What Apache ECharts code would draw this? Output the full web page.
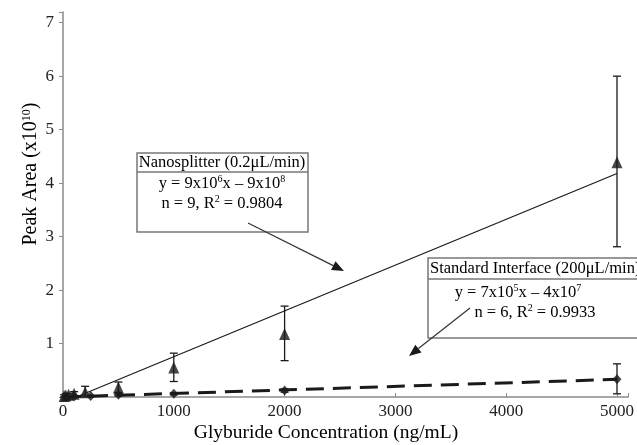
<!DOCTYPE html>
<html>
<head>
<meta charset="utf-8">
<script src="https://cdn.jsdelivr.net/npm/echarts@6/dist/echarts.min.js"></script>
<style>
  html, body { margin: 0; padding: 0; background: #fff; }
  #chart { width: 637px; height: 445px; }
</style>
</head>
<body>
<div id="chart"></div>
<script>
// Nanosplitter (0.2 uL/min) - triangles, peak area in x10^10
const nanoConc = [10, 25, 50, 100, 200, 500, 1000, 2000, 5000]
const nanoArea = [0.02, 0.03, 0.04, 0.06, 0.09, 0.18, 0.55, 1.18, 4.39]
const nanoLow = [0.0, 0.01, 0.02, 0.03, 0.02, 0.08, 0.29, 0.68, 2.81]
const nanoHigh = [0.04, 0.06, 0.07, 0.10, 0.20, 0.28, 0.82, 1.70, 6.00]

// Standard interface (200 uL/min) - diamonds
const stdConc = [100, 250, 500, 1000, 2000, 5000]
const stdArea = [0.01, 0.02, 0.04, 0.06, 0.12, 0.33]
const stdLow = [0.0, 0.01, 0.02, 0.04, 0.09, 0.06]
const stdHigh = [0.02, 0.03, 0.06, 0.08, 0.15, 0.62]

// fitted lines
const nanoFitX = [120, 5000]
const nanoFitY = [0, 4.18]
const stdFitX = [0, 5000]
const stdFitY = [0, 0.33]

const xTicks = [0, 1000, 2000, 3000, 4000, 5000]
const yTicks = [1, 2, 3, 4, 5, 6, 7]

const FONT = 'Liberation Serif'
const INK = '#1a1a1a'

const zip = (a, b) => a.map((v, i) => [v, b[i]])
const errData = (x, lo, hi) => x.map((v, i) => [v, lo[i], hi[i]])

function errorBars(params, api) {
  const x = api.value(0)
  const lo = api.coord([x, api.value(1)])
  const hi = api.coord([x, api.value(2)])
  const w = 4
  const style = {stroke: INK, lineWidth: 1.3}
  return {
    type: 'group',
    children: [
      {type: 'line', shape: {x1: lo[0], y1: lo[1], x2: hi[0], y2: hi[1]}, style},
      {type: 'line', shape: {x1: lo[0] - w, y1: lo[1], x2: lo[0] + w, y2: lo[1]}, style},
      {type: 'line', shape: {x1: hi[0] - w, y1: hi[1], x2: hi[0] + w, y2: hi[1]}, style}
    ]
  }
}

function txt(x, y, text, align, size, drop) {
  size = size || 16.5
  const sup = Math.round(size * 0.62)
  return {
    type: 'text', x, y, z: 10,
    style: {
      text,
      rich: {
        b: {fontFamily: FONT, fontSize: size, color: INK, lineHeight: size + 4},
        s: {fontFamily: FONT, fontSize: sup, color: INK, lineHeight: sup + 2, verticalAlign: 'top', padding: [drop || 1, 0, 0, 0]}
      },
      align: align || 'center', verticalAlign: 'middle', font: size + 'px ' + FONT
    }
  }
}

function arrow(x1, y1, x2, y2) {
  const ang = Math.atan2(y2 - y1, x2 - x1)
  const len = 12, half = 5
  const bx = x2 - len * Math.cos(ang), by = y2 - len * Math.sin(ang)
  const px = -Math.sin(ang) * half, py = Math.cos(ang) * half
  return [
    {type: 'line', z: 10, shape: {x1, y1, x2: bx, y2: by}, style: {stroke: '#333', lineWidth: 1.2}},
    {type: 'polygon', z: 10, shape: {points: [[x2, y2], [bx + px, by + py], [bx - px, by - py]]}, style: {fill: INK}}
  ]
}

const graphics = [
  // axis titles
  txt(326, 433, '{b|Glyburide Concentration (ng/mL)}', 'center', 19.5),
  Object.assign(txt(31, 174, '{b|Peak Area (x10}{s|10}{b|)}', 'center', 20, 2), {rotation: Math.PI / 2}),
  // nanosplitter box
  {type: 'rect', z: 9, shape: {x: 137, y: 153, width: 171, height: 79}, style: {fill: '#fff', stroke: '#777', lineWidth: 1.5}},
  {type: 'line', z: 9, shape: {x1: 137, y1: 172, x2: 308, y2: 172}, style: {stroke: '#777', lineWidth: 1.5}},
  txt(222, 163, '{b|Nanosplitter (0.2μL/min)}'),
  txt(222, 184, '{b|y = 9x10}{s|6}{b|x – 9x10}{s|8}'),
  txt(222, 204, '{b|n = 9, R}{s|2}{b| = 0.9804}'),
  // standard interface box
  {type: 'rect', z: 9, shape: {x: 428, y: 258, width: 220, height: 80}, style: {fill: '#fff', stroke: '#777', lineWidth: 1.5}},
  {type: 'line', z: 9, shape: {x1: 428, y1: 279, x2: 648, y2: 279}, style: {stroke: '#777', lineWidth: 1.5}},
  txt(430, 269, '{b|Standard Interface (200μL/min)}', 'left'),
  txt(518, 293, '{b|y = 7x10}{s|5}{b|x – 4x10}{s|7}'),
  txt(535, 313, '{b|n = 6, R}{s|2}{b| = 0.9933}')
].concat(arrow(248, 223, 344, 271), arrow(470, 308, 409, 356))

const chart = echarts.init(document.getElementById('chart'))
chart.setOption({
  animation: false,
  backgroundColor: '#fff',
  grid: {left: 63, right: 5, top: 12, bottom: 48},
  xAxis: {
    type: 'value', min: 0, max: 5100, interval: 1000,
    axisLine: {lineStyle: {color: '#8a8a8a', width: 1.5}},
    axisTick: {inside: true, length: 4, lineStyle: {color: '#8a8a8a'}},
    axisLabel: {
      color: '#222', fontFamily: FONT, fontSize: 17, margin: 6,
      formatter: v => xTicks.indexOf(v) >= 0 ? String(v) : ''
    },
    splitLine: {show: false}
  },
  yAxis: {
    type: 'value', min: 0, max: 7.2, interval: 1,
    axisLine: {show: true, lineStyle: {color: '#8a8a8a', width: 1.5}},
    axisTick: {show: true, length: 4, lineStyle: {color: '#8a8a8a'}},
    axisLabel: {
      color: '#222', fontFamily: FONT, fontSize: 17, margin: 9,
      formatter: v => yTicks.indexOf(v) >= 0 ? String(v) : ''
    },
    splitLine: {show: false}
  },
  graphic: graphics,
  series: [
    {
      type: 'line', data: zip(nanoFitX, nanoFitY), symbol: 'none',
      lineStyle: {color: INK, width: 1.2}, z: 2
    },
    {
      type: 'line', data: zip(stdFitX, stdFitY), symbol: 'none',
      lineStyle: {color: INK, width: 3, type: [18, 9]}, z: 2
    },
    {type: 'custom', renderItem: errorBars, data: errData(nanoConc, nanoLow, nanoHigh), z: 3},
    {type: 'custom', renderItem: errorBars, data: errData(stdConc, stdLow, stdHigh), z: 3},
    {
      type: 'scatter', data: zip(nanoConc, nanoArea), symbol: 'triangle', symbolSize: [11, 12],
      itemStyle: {color: INK}, z: 4
    },
    {
      type: 'scatter', data: zip(stdConc, stdArea), symbol: 'diamond', symbolSize: [9, 10],
      itemStyle: {color: INK}, z: 4
    }
  ]
})
</script>
</body>
</html>
